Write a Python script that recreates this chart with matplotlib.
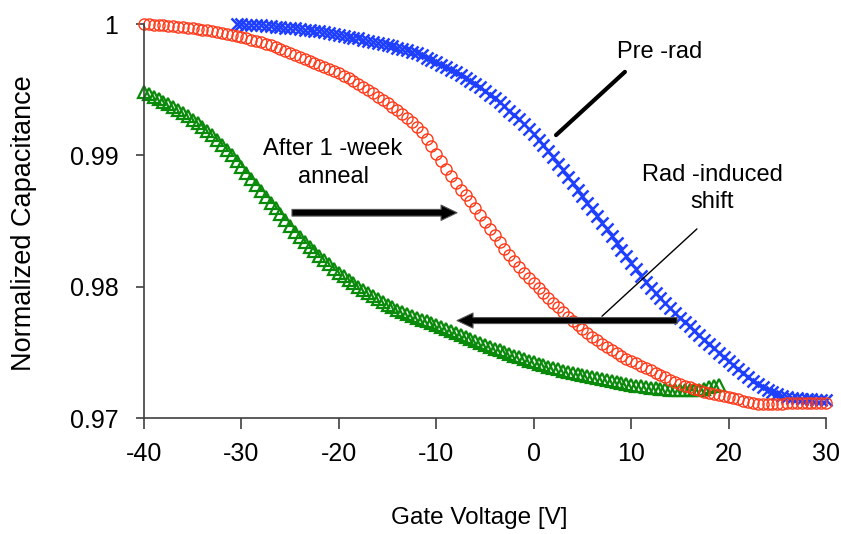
import matplotlib
matplotlib.use("Agg")
import matplotlib.pyplot as plt
import numpy as np

plt.rcParams['font.family'] = ['Liberation Sans', 'DejaVu Sans']
plt.rcParams['axes.unicode_minus'] = False

# pre-rad sweep (blue x)
pre_v = np.arange(-30.5, 30.01, 0.5)
pre_c = [1.00000, 0.99998, 0.99996, 0.99994, 0.99992, 0.99989, 0.99986, 0.99983, 0.99980, 0.99976,
         0.99973, 0.99970, 0.99966, 0.99962, 0.99958, 0.99954, 0.99949, 0.99944, 0.99938, 0.99932,
         0.99926, 0.99919, 0.99912, 0.99905, 0.99897, 0.99890, 0.99882, 0.99874, 0.99866, 0.99857,
         0.99848, 0.99839, 0.99830, 0.99821, 0.99811, 0.99800, 0.99788, 0.99776, 0.99763, 0.99745,
         0.99727, 0.99709, 0.99690, 0.99671, 0.99652, 0.99632, 0.99611, 0.99589, 0.99566, 0.99542,
         0.99517, 0.99491, 0.99463, 0.99434, 0.99404, 0.99373, 0.99341, 0.99308, 0.99274, 0.99238,
         0.99200, 0.99161, 0.99120, 0.99078, 0.99032, 0.98985, 0.98937, 0.98888, 0.98839, 0.98790,
         0.98740, 0.98690, 0.98640, 0.98589, 0.98538, 0.98487, 0.98436, 0.98385, 0.98334, 0.98283,
         0.98232, 0.98182, 0.98132, 0.98083, 0.98034, 0.97988, 0.97950, 0.97912, 0.97875, 0.97838,
         0.97801, 0.97765, 0.97731, 0.97697, 0.97663, 0.97629, 0.97595, 0.97562, 0.97530, 0.97498,
         0.97466, 0.97434, 0.97403, 0.97372, 0.97342, 0.97313, 0.97285, 0.97259, 0.97235, 0.97213,
         0.97195, 0.97180, 0.97168, 0.97160, 0.97154, 0.97149, 0.97146, 0.97143, 0.97141, 0.97139,
         0.97138, 0.97137]

# after rad (green triangles)
rad_v = np.arange(-40.0, 19.01, 0.5)
rad_c = [0.99485, 0.99467, 0.99448, 0.99429, 0.99410, 0.99391, 0.99371, 0.99347, 0.99322, 0.99297,
         0.99271, 0.99244, 0.99216, 0.99187, 0.99153, 0.99118, 0.99081, 0.99043, 0.99003, 0.98960,
         0.98914, 0.98866, 0.98818, 0.98772, 0.98727, 0.98683, 0.98640, 0.98596, 0.98551, 0.98505,
         0.98459, 0.98418, 0.98378, 0.98340, 0.98303, 0.98268, 0.98234, 0.98201, 0.98169, 0.98138,
         0.98108, 0.98079, 0.98052, 0.98025, 0.97999, 0.97974, 0.97950, 0.97926, 0.97904, 0.97883,
         0.97863, 0.97844, 0.97826, 0.97809, 0.97793, 0.97778, 0.97763, 0.97749, 0.97735, 0.97721,
         0.97707, 0.97692, 0.97677, 0.97662, 0.97647, 0.97632, 0.97617, 0.97602, 0.97587, 0.97572,
         0.97557, 0.97543, 0.97529, 0.97515, 0.97501, 0.97487, 0.97474, 0.97461, 0.97449, 0.97437,
         0.97425, 0.97414, 0.97403, 0.97392, 0.97381, 0.97371, 0.97361, 0.97351, 0.97341, 0.97333,
         0.97325, 0.97317, 0.97309, 0.97302, 0.97295, 0.97288, 0.97281, 0.97274, 0.97267, 0.97260,
         0.97253, 0.97246, 0.97240, 0.97235, 0.97230, 0.97226, 0.97222, 0.97218, 0.97215, 0.97213,
         0.97212, 0.97212, 0.97212, 0.97213, 0.97215, 0.97222, 0.97233, 0.97243, 0.97250]

# after 1-week anneal (red circles)
ann_v = np.arange(-40.0, 30.01, 0.5)
ann_c = [1.00000, 0.99998, 0.99996, 0.99993, 0.99990, 0.99986, 0.99982, 0.99978, 0.99975, 0.99971,
         0.99967, 0.99963, 0.99958, 0.99953, 0.99947, 0.99941, 0.99934, 0.99927, 0.99919, 0.99910,
         0.99901, 0.99891, 0.99881, 0.99871, 0.99860, 0.99849, 0.99837, 0.99822, 0.99809, 0.99795,
         0.99781, 0.99767, 0.99752, 0.99736, 0.99720, 0.99704, 0.99688, 0.99672, 0.99657, 0.99641,
         0.99626, 0.99606, 0.99586, 0.99565, 0.99543, 0.99520, 0.99496, 0.99472, 0.99447, 0.99421,
         0.99395, 0.99369, 0.99343, 0.99316, 0.99288, 0.99253, 0.99216, 0.99175, 0.99125, 0.99070,
         0.99012, 0.98954, 0.98898, 0.98842, 0.98787, 0.98740, 0.98695, 0.98650, 0.98600, 0.98548,
         0.98495, 0.98442, 0.98390, 0.98338, 0.98290, 0.98243, 0.98197, 0.98150, 0.98105, 0.98066,
         0.98028, 0.97990, 0.97952, 0.97915, 0.97878, 0.97842, 0.97806, 0.97771, 0.97738, 0.97706,
         0.97675, 0.97646, 0.97618, 0.97591, 0.97565, 0.97540, 0.97516, 0.97494, 0.97473, 0.97453,
         0.97434, 0.97416, 0.97398, 0.97380, 0.97362, 0.97344, 0.97326, 0.97309, 0.97292, 0.97276,
         0.97261, 0.97247, 0.97234, 0.97222, 0.97211, 0.97201, 0.97192, 0.97183, 0.97175, 0.97166,
         0.97158, 0.97150, 0.97141, 0.97132, 0.97122, 0.97114, 0.97110, 0.97108, 0.97108, 0.97109,
         0.97110, 0.97110, 0.97111, 0.97112, 0.97112, 0.97113, 0.97113, 0.97114, 0.97115, 0.97116,
         0.97118]

x_ticks = [-40, -30, -20, -10, 0, 10, 20, 30]
y_ticks = [0.97, 0.98, 0.99, 1.0]
y_tick_labels = ['0.97', '0.98', '0.99', '1']

fig = plt.figure(figsize=(8.41, 5.34), dpi=100)
ax = fig.add_axes([0.1712, 0.2172, 0.811, 0.7378])

ax.plot(pre_v, pre_c, ls='none', marker='x', ms=9, mew=1.8, color='#1f3fff', clip_on=False)
ax.plot(rad_v, rad_c, ls='none', marker='^', ms=8, mew=1.6, mfc='none', mec='#0a8a0a', clip_on=False)
ax.plot(ann_v, ann_c, ls='none', marker='o', ms=8, mew=1.0, mfc='none', mec='#ff3a1a', clip_on=False)

ax.set_xlim(-40, 30)
ax.set_ylim(0.97, 1.0)
ax.set_xticks(x_ticks)
ax.set_yticks(y_ticks)
ax.set_yticklabels(y_tick_labels)

for s in ['top', 'right']:
    ax.spines[s].set_visible(False)
for s in ['left', 'bottom']:
    ax.spines[s].set_color('#404040')
    ax.spines[s].set_linewidth(1.2)
ax.tick_params(axis='x', direction='out', length=8, width=1.2, color='#404040', pad=9, labelsize=18)
ax.tick_params(axis='y', direction='out', length=5.5, width=1.2, color='#404040', pad=13, labelsize=18)

ax.set_xlabel('Gate Voltage [V]', fontsize=17.5)
ax.xaxis.set_label_coords(0.491, -0.225)
ax.set_ylabel('Normalized Capacitance', fontsize=19.5, va='center')
ax.yaxis.set_label_coords(-0.176, 0.494)

# annotations
ax.text(12.96, 0.99787, 'Pre -rad', fontsize=17, ha='center', va='center')
ax.annotate('', xy=(2.08, 0.99140), xytext=(9.57, 0.99650),
            arrowprops=dict(arrowstyle='-', lw=3, color='black'))

ax.text(18.3, 0.98751, 'Rad -induced\nshift', fontsize=17, ha='center', va='center', linespacing=1.3)
ax.annotate('', xy=(6.80, 0.97761), xytext=(16.96, 0.98454),
            arrowprops=dict(arrowstyle='-', lw=1, color='black'))
ax.annotate('', xy=(-7.87, 0.97742), xytext=(14.71, 0.97742),
            arrowprops=dict(width=4.3, headwidth=10.8, headlength=11.5, shrink=0,
                            facecolor='black', edgecolor='#555555', lw=0.8))

ax.text(-20.6, 0.98942, 'After 1 -week\nanneal', fontsize=17, ha='center', va='center', linespacing=1.3)
ax.annotate('', xy=(-7.87, 0.98563), xytext=(-24.81, 0.98563),
            arrowprops=dict(width=4.8, headwidth=11, headlength=11.5, shrink=0,
                            facecolor='black', edgecolor='#555555', lw=0.8))

fig.savefig('out.png', dpi=100)
